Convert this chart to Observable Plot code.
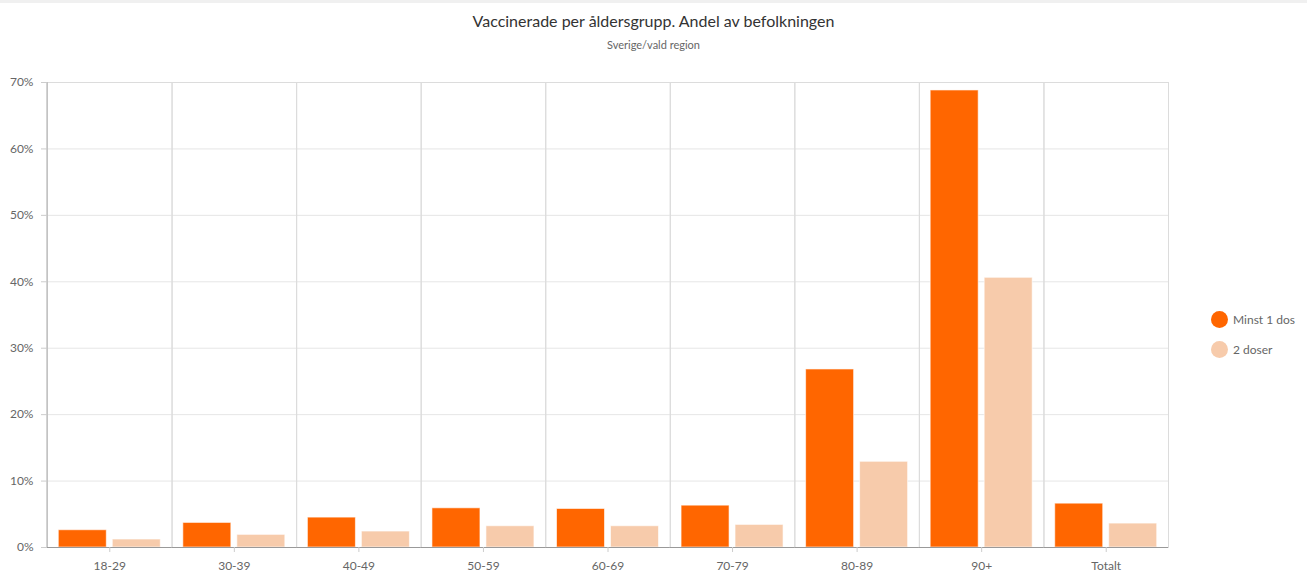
<!DOCTYPE html>
<html><head><meta charset="utf-8">
<script src="https://cdn.jsdelivr.net/npm/d3@7"></script>
<script src="https://cdn.jsdelivr.net/npm/@observablehq/plot@0.6"></script>
<style>
body{margin:0;background:#fff;font-family:Lato,sans-serif;}
#wrap{position:relative;width:1307px;height:575px;overflow:hidden;}
#topbar{position:absolute;left:0;top:0;width:1307px;height:3px;background:#f0f0f0;}
#title{position:absolute;top:12px;left:0;width:1307px;text-align:center;font-size:16px;line-height:18px;color:#333;}
#subtitle{position:absolute;top:38px;left:0;width:1307px;text-align:center;font-size:11px;line-height:14px;color:#666;}
#chart{position:absolute;top:60px;left:0;}
#legend{position:absolute;left:1211px;top:304px;font-size:12px;color:#666;}
.item{display:flex;align-items:center;height:30px;}
.sw{width:17px;height:17px;border-radius:50%;margin-right:5px;}
</style></head>
<body>
<div id="wrap">
  <div id="topbar"></div>
  <div id="title">Vaccinerade per åldersgrupp. Andel av befolkningen</div>
  <div id="subtitle">Sverige/vald region</div>
  <div id="chart"></div>
  <div id="legend"></div>
</div>
<script>
const ages = ["18-29","30-39","40-49","50-59","60-69","70-79","80-89","90+","Totalt"];
const series = ["Minst 1 dos","2 doser"];
const minst1dos = [2.6, 3.7, 4.5, 5.9, 5.8, 6.3, 26.8, 68.8, 6.6];
const tvaDoser = [1.2, 1.9, 2.4, 3.2, 3.2, 3.4, 12.9, 40.6, 3.6];
const yTicks = [0, 10, 20, 30, 40, 50, 60, 70];
const colors = ["#ff6600", "#f7cbab"];

const data = ages.flatMap((a, i) => [
  {age: a, series: series[0], value: minst1dos[i]},
  {age: a, series: series[1], value: tvaDoser[i]}
]);

const W = 1307, mL = 47, mR = 139;
const facetW = (W - mL - mR) / ages.length;

const chart = Plot.plot({
  width: W, height: 515,
  marginLeft: mL, marginRight: mR, marginTop: 22, marginBottom: 28,
  style: {fontFamily: "Lato, sans-serif", fontSize: "12px", color: "#666", background: "transparent"},
  fx: {domain: ages, padding: 0, round: false, label: null, axis: null},
  x: {domain: series, paddingInner: 0.111, paddingOuter: 0.209, round: false, axis: null},
  y: {domain: [0, 70], axis: null},
  color: {domain: series, range: colors},
  marks: [
    Plot.gridY(yTicks, {stroke: "#e6e6e6", strokeOpacity: 1}),
    Plot.frame({stroke: "#dcdcdc"}),
    Plot.rect([ages[0]], {fx: d => d, y1: 0, y2: 70, fill: "#aaa", insetLeft: -0.5, insetRight: facetW - 0.5}),
    Plot.barY(data, {fx: "age", x: "series", y: "value", fill: "series", stroke: "#fff", strokeWidth: 1, strokeOpacity: 0.6}),
    Plot.ruleY([0], {stroke: "#999"}),
    Plot.axisY(yTicks, {tickFormat: d => d + "%", tickSize: 6, tickPadding: 8, stroke: "#ccc", fill: "#666", label: null}),
    Plot.axisFx({anchor: "bottom", tickSize: 5, tickPadding: 9, stroke: "#ccc", fill: "#666", label: null})
  ]
});
document.getElementById("chart").appendChild(chart);

const legend = document.getElementById("legend");
series.forEach((s, i) => {
  const it = document.createElement("div");
  it.className = "item";
  const sw = document.createElement("div");
  sw.className = "sw";
  sw.style.background = colors[i];
  const t = document.createElement("span");
  t.textContent = s;
  it.appendChild(sw); it.appendChild(t);
  legend.appendChild(it);
});
</script>
</body></html>
